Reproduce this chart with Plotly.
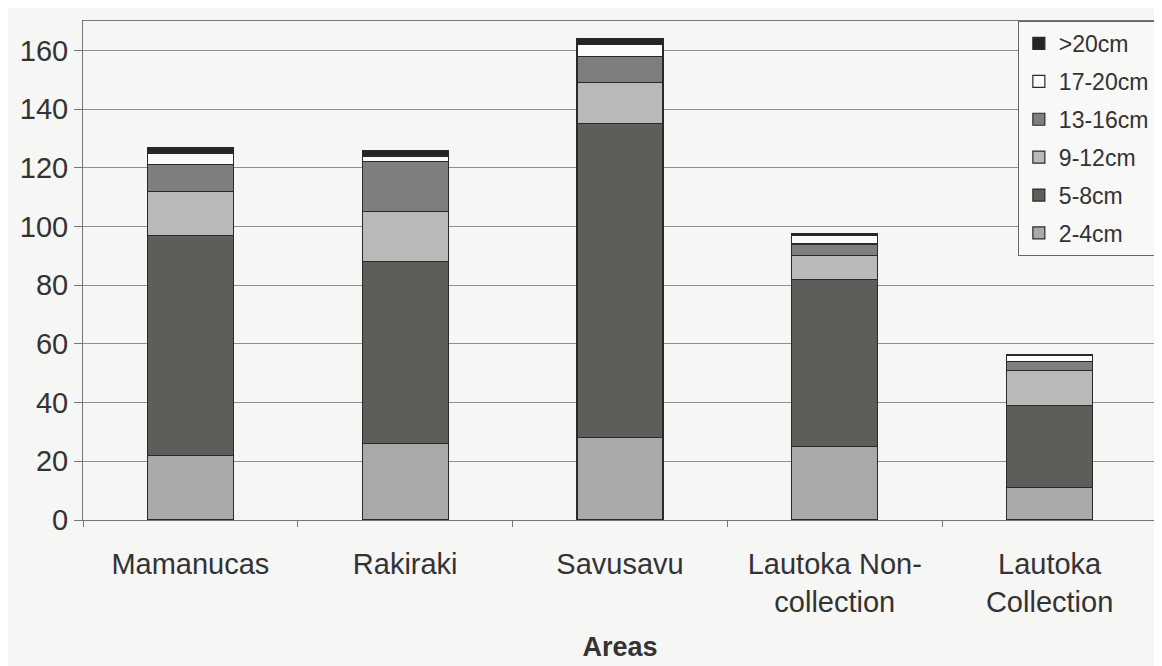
import plotly.graph_objects as go

# Areas and counts per size class
areas = ["Mamanucas", "Rakiraki", "Savusavu", "Lautoka Non-<br>collection", "Lautoka<br>Collection"]
size_classes = ["2-4cm", "5-8cm", "9-12cm", "13-16cm", "17-20cm", ">20cm"]

cm_2_4 = [22, 26, 28, 25, 11]
cm_5_8 = [75, 62, 107, 57, 28]
cm_9_12 = [15, 17, 14, 8, 12]
cm_13_16 = [9, 17, 9, 4, 3]
cm_17_20 = [4, 2, 4, 3, 2]
cm_20_up = [2, 2, 2, 0.5, 0.4]

values = [cm_2_4, cm_5_8, cm_9_12, cm_13_16, cm_17_20, cm_20_up]
colors = ['#a9a9a9', '#5c5e5a', '#b9b9b9', '#7e7e7e', '#fbfbfb', '#252525']

fig = go.Figure()
for i, (name, vals) in enumerate(zip(size_classes, values)):
    fig.add_trace(go.Bar(
        x=areas, y=vals, name=name,
        legendgroup=name,
        legendrank=len(size_classes) - i,
        marker=dict(color=colors[i], line=dict(color='#2a2a2a', width=1.2)),
    ))

# page body has an 8px margin, so margins are set relative to that
fig.update_layout(
    barmode='stack',
    bargap=0.6,
    width=1162, height=666,
    margin=dict(l=72, r=13, t=12, b=154),
    paper_bgcolor='#f6f6f4',
    plot_bgcolor='#f6f6f4',
    font=dict(family='Liberation Sans, Arial, sans-serif', color='#333333'),
    legend=dict(
        x=0.998, y=1.0, xanchor='right', yanchor='top',
        tracegroupgap=5,
        font=dict(size=23, color='#333333'),
        bgcolor='#f8f8f6',
        bordercolor='#666666', borderwidth=1,
        itemwidth=30,
    ),
    xaxis=dict(
        title=dict(text='<b>Areas</b>', font=dict(size=27, color='#333333'), standoff=20),
        tickfont=dict(size=29, color='#333333'),
        ticks='outside', ticklen=6, tickcolor='#777777',
        tickson='boundaries',
        ticklabelstandoff=18,
        showline=True, linecolor='#777777', linewidth=1, mirror=True,
    ),
    yaxis=dict(
        range=[0, 170],
        tickvals=[0, 20, 40, 60, 80, 100, 120, 140, 160],
        tickfont=dict(size=29, color='#333333'),
        ticks='outside', ticklen=8, tickcolor='#777777',
        showgrid=True, gridcolor='#8f8f8f', gridwidth=1,
        showline=True, linecolor='#777777', linewidth=1,
        zeroline=False,
    ),
)

fig.write_html("out.html")
